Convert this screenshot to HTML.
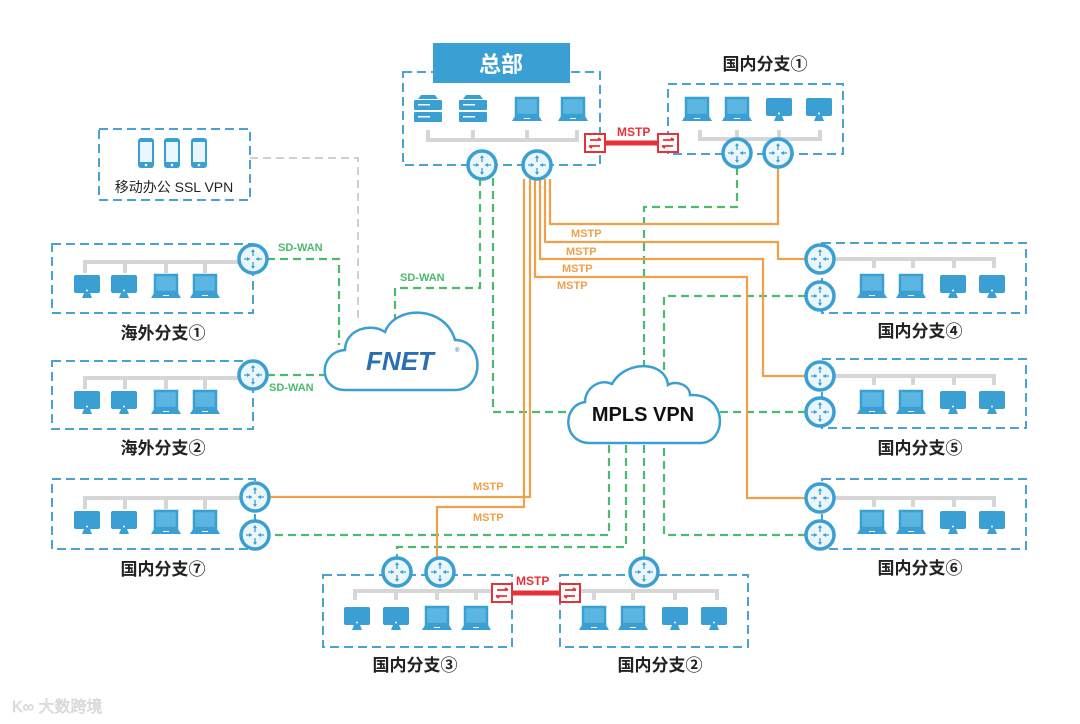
<!DOCTYPE html>
<html><head><meta charset="utf-8"><style>
html,body{margin:0;padding:0;background:#fff;}
svg{display:block;}
text{font-family:"Liberation Sans","Noto Sans CJK SC",sans-serif;}
</style></head><body>
<svg width="1080" height="724" viewBox="0 0 1080 724" xmlns="http://www.w3.org/2000/svg">
<defs>
<g id="rt"><circle r="14" fill="#eaf6fc" stroke="#3a9fd2" stroke-width="3.5"/>
<path d="M0 -9 L0 -3 M-9 0 L-3 0 M3 0 L9 0 M0 3 L0 9" stroke="#3a9fd2" stroke-width="1.3"/>
<path d="M-2 -7 L0 -10 L2 -7 Z M-2 7 L0 10 L2 7Z M-6 -2 L-3 0 L-6 2Z M6 -2 L3 0 L6 2Z" fill="#3a9fd2"/></g>
<g id="mon"><rect x="-13" y="-12" width="26" height="18" rx="2" fill="#3a9fd2"/><circle cx="0" cy="3.5" r="1" fill="#fff"/><path d="M-3 6 L3 6 L5 11 L-5 11Z" fill="#3a9fd2"/></g>
<g id="lap"><rect x="-11" y="-12" width="22" height="17" fill="#5cb6e2" stroke="#3a9fd2" stroke-width="2.5"/><path d="M-12 6 L12 6 L15 11 L-15 11Z" fill="#3a9fd2"/><rect x="-3" y="8" width="6" height="1" fill="#fff"/></g>
<g id="srv"><rect x="-14" y="-12" width="28" height="10" rx="1" fill="#3a9fd2"/><rect x="-14" y="0" width="28" height="10" rx="1" fill="#3a9fd2"/><path d="M-10 -13 L-7 -17 L7 -17 L10 -13Z" fill="#3a9fd2"/><rect x="-10" y="-8" width="12" height="1.5" fill="#fff"/><rect x="-10" y="4" width="12" height="1.5" fill="#fff"/></g>
<g id="sw"><rect x="-10" y="-9" width="20" height="18" fill="#fff" stroke="#e53238" stroke-width="2"/><path d="M-5 -3 L6 -3 M6 -3 L3 -5 M5 3 L-6 3 M-6 3 L-3 5" stroke="#e53238" stroke-width="1.8" fill="none"/></g>
<g id="ph"><rect x="-8" y="-15" width="16" height="30" rx="3" fill="#3a9fd2"/><rect x="-6" y="-11" width="12" height="20" fill="#eaf6fc"/><circle cx="0" cy="12" r="1.3" fill="#fff"/></g>
</defs>

<path d="M250 158 H358 V322" fill="none" stroke="#cfcfcf" stroke-width="2" stroke-dasharray="8,5"/>

<g fill="none" stroke="#4cba6c" stroke-width="2.2" stroke-dasharray="8,5">
<path d="M480 178 V288 H395 V320"/>
<path d="M493 178 V412 H568"/>
<path d="M737 167 V207 H644 V370"/>
<path d="M806 296 H664 V380"/>
<path d="M806 412 H720"/>
<path d="M806 535 H664 V445"/>
<path d="M609 445 V535 H269"/>
<path d="M626 445 V547 H397 V558"/>
<path d="M644 445 V558"/>
<path d="M267 259 H339 V345"/>
<path d="M267 375 H327"/>
</g>

<g fill="none" stroke="#f0a04b" stroke-width="2.2">
<path d="M550 179 V224 H778 V167"/>
<path d="M545 179 V242 H778 V259 H806"/>
<path d="M540 179 V259 H763 V376 H806"/>
<path d="M535 179 V277 H747 V498 H806"/>
<path d="M530 179 V497 H269"/>
<path d="M524 179 V507 H437 V558"/>
</g>
<g font-size="11" font-weight="bold" fill="#f0a04b">
<text x="571" y="237">MSTP</text><text x="566" y="255">MSTP</text><text x="562" y="272">MSTP</text><text x="557" y="289">MSTP</text>
<text x="473" y="490">MSTP</text><text x="473" y="521">MSTP</text>
</g>
<g font-size="11" font-weight="bold" fill="#4cba6c">
<text x="278" y="251">SD-WAN</text><text x="400" y="281">SD-WAN</text><text x="269" y="391">SD-WAN</text>
</g>

<g fill="none" stroke="#4aa3cc" stroke-width="2" stroke-dasharray="9,5">
<rect x="403" y="72" width="197" height="93"/>
<rect x="668" y="84" width="175" height="70"/>
<rect x="99" y="129" width="151" height="71"/>
<rect x="52" y="244" width="201" height="69"/>
<rect x="52" y="361" width="201" height="68"/>
<rect x="52" y="479" width="203" height="70"/>
<rect x="822" y="243" width="204" height="70"/>
<rect x="822" y="359" width="204" height="69"/>
<rect x="822" y="479" width="204" height="70"/>
<rect x="323" y="575" width="189" height="72"/>
<rect x="560" y="575" width="188" height="72"/>
</g>

<g fill="none" stroke="#d6d6d6" stroke-width="4">
<path d="M428 130 V140 H577 V130 M473 130 V140 M527 130 V140"/>
<path d="M700 130 V139 H820 V130 M737 130 V139 M779 130 V139"/>
<path d="M85 273 V262 H245 M125 273 V262 M166 273 V262 M205 273 V262"/>
<path d="M85 389 V378 H245 M125 389 V378 M166 389 V378 M205 389 V378"/>
<path d="M85 509 V498 H245 M125 509 V498 M166 509 V498 M205 509 V498"/>
<path d="M830 259 H994 V268 M874 259 V268 M913 259 V268 M954 259 V268"/>
<path d="M830 376 H994 V385 M874 376 V385 M913 376 V385 M954 376 V385"/>
<path d="M830 498 H994 V507 M874 498 V507 M913 498 V507 M954 498 V507"/>
<path d="M355 600 V591 H500 M396 600 V591 M437 600 V591 M476 600 V591"/>
<path d="M575 591 H717 V600 M594 591 V600 M633 591 V600 M675 591 V600"/>
</g>

<use href="#srv" x="428" y="112"/><use href="#srv" x="473" y="112"/><use href="#lap" x="527" y="110"/><use href="#lap" x="573" y="110"/>
<use href="#lap" x="697" y="110"/><use href="#lap" x="737" y="110"/><use href="#mon" x="779" y="110"/><use href="#mon" x="819" y="110"/>
<use href="#ph" x="146" y="153"/><use href="#ph" x="172" y="153"/><use href="#ph" x="199" y="153"/>
<g id="row"><use href="#mon" x="87" y="287"/><use href="#mon" x="124" y="287"/><use href="#lap" x="166" y="287"/><use href="#lap" x="205" y="287"/></g>
<use href="#row" y="116"/><use href="#row" y="236"/>
<g id="rrow"><use href="#lap" x="872" y="287"/><use href="#lap" x="911" y="287"/><use href="#mon" x="953" y="287"/><use href="#mon" x="992" y="287"/></g>
<use href="#rrow" y="116"/><use href="#rrow" y="236"/>
<use href="#mon" x="357" y="619"/><use href="#mon" x="396" y="619"/><use href="#lap" x="437" y="619"/><use href="#lap" x="476" y="619"/>
<use href="#lap" x="594" y="619"/><use href="#lap" x="633" y="619"/><use href="#mon" x="675" y="619"/><use href="#mon" x="714" y="619"/>

<use href="#rt" x="482" y="165"/><use href="#rt" x="537" y="165"/>
<use href="#rt" x="737" y="153"/><use href="#rt" x="778" y="153"/>
<use href="#rt" x="253" y="259"/><use href="#rt" x="253" y="375"/>
<use href="#rt" x="255" y="497"/><use href="#rt" x="255" y="535"/>
<use href="#rt" x="820" y="259"/><use href="#rt" x="820" y="296"/>
<use href="#rt" x="820" y="376"/><use href="#rt" x="820" y="412"/>
<use href="#rt" x="820" y="498"/><use href="#rt" x="820" y="535"/>
<use href="#rt" x="397" y="572"/><use href="#rt" x="440" y="572"/><use href="#rt" x="644" y="572"/>

<path d="M605 143 H658" stroke="#e53238" stroke-width="5"/>
<use href="#sw" x="595" y="143"/><use href="#sw" x="668" y="143"/>
<path d="M512 593 H560" stroke="#e53238" stroke-width="5"/>
<use href="#sw" x="502" y="593"/><use href="#sw" x="570" y="593"/>
<g font-size="12" font-weight="bold" fill="#e53238"><text x="617" y="136">MSTP</text><text x="516" y="585">MSTP</text></g>

<rect x="433" y="43" width="137" height="40" fill="#3a9fd2"/>
<text x="501" y="72" font-size="22" font-weight="bold" fill="#fff" text-anchor="middle">总部</text>

<path d="M345 390 C318 390 318 352 345 350 C345 330 370 322 385 332 C395 305 445 305 455 340 C485 340 485 390 455 390 Z" fill="#fff" stroke="#3a9fd2" stroke-width="2.5"/>
<text x="400" y="370" font-size="26" font-weight="bold" font-style="italic" fill="#2a6fb0" text-anchor="middle">FNET</text>
<text x="455" y="352" font-size="6" fill="#2a6fb0">®</text>
<path d="M590 443 C562 443 562 405 585 402 C585 388 600 378 612 384 C625 360 665 360 668 385 C676 380 690 385 690 395 C728 393 728 443 700 443 Z" fill="#fff" stroke="#3a9fd2" stroke-width="2.5"/>
<text x="643" y="421" font-size="20" font-weight="bold" fill="#111" text-anchor="middle">MPLS VPN</text>

<g font-size="17" font-weight="bold" fill="#222" text-anchor="middle">
<text x="765" y="70">国内分支①</text>
<text x="163" y="339">海外分支①</text>
<text x="163" y="454">海外分支②</text>
<text x="163" y="575">国内分支⑦</text>
<text x="920" y="337">国内分支④</text>
<text x="920" y="454">国内分支⑤</text>
<text x="920" y="574">国内分支⑥</text>
<text x="415" y="671">国内分支③</text>
<text x="660" y="671">国内分支②</text>
</g>
<text x="174" y="192" font-size="14" fill="#222" text-anchor="middle">移动办公 SSL VPN</text>
<text x="12" y="712" font-size="16" fill="#e4e4e4" stroke="#cfcfcf" stroke-width="0.5">K∞ 大数跨境</text>
</svg>
</body></html>
